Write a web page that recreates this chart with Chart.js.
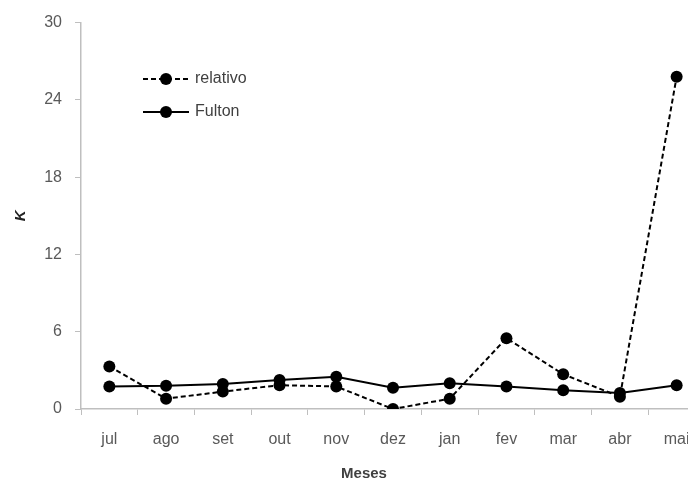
<!DOCTYPE html>
<html>
<head>
<meta charset="utf-8">
<script src="https://cdn.jsdelivr.net/npm/chart.js@4"></script>
<style>
  body { margin: 0; overflow: hidden; background: #fff; }
  #wrap { position: relative; width: 720px; height: 479px; }
  #meses {
    position: absolute; left: 364px; top: 472px;
    transform: translate(-50%, -50%);
    font: bold 15px "Liberation Sans", sans-serif; color: #404040;
  }
</style>
</head>
<body>
<div id="wrap">
  <canvas id="chart-k"></canvas>
  <div id="meses">Meses</div>
</div>
<script>
// months on the x axis
const labelsMeses = ["jul", "ago", "set", "out", "nov", "dez", "jan", "fev", "mar", "abr", "mai"];

// values
const dataRelativo = [3.3, 0.8, 1.35, 1.85, 1.75, 0.0, 0.8, 5.5, 2.7, 0.95, 25.8];
const dataFulton = [1.75, 1.8, 1.95, 2.25, 2.5, 1.65, 2.0, 1.75, 1.45, 1.25, 1.85];

const yTicks = [0, 6, 12, 18, 24, 30];

const tickFont = { family: "Liberation Sans", size: 16 };

// draws the little legend inside the plot (line + dot + text)
const innerLegend = {
  id: "innerLegend",
  afterDraw(chart) {
    const ctx = chart.ctx;
    const area = chart.chartArea;
    chart.data.datasets.forEach((ds, i) => {
      const y = 79 + i * 33;
      const x0 = area.left + 62;
      const x1 = area.left + 108;
      ctx.save();
      ctx.strokeStyle = ds.borderColor;
      ctx.lineWidth = ds.borderWidth;
      ctx.setLineDash(ds.borderDash || []);
      ctx.beginPath();
      ctx.moveTo(x0, y);
      ctx.lineTo(x1, y);
      ctx.stroke();
      ctx.setLineDash([]);
      ctx.fillStyle = ds.pointBackgroundColor;
      ctx.beginPath();
      ctx.arc((x0 + x1) / 2, y, ds.pointRadius, 0, Math.PI * 2);
      ctx.fill();
      ctx.fillStyle = "#404040";
      ctx.font = "16px 'Liberation Sans'";
      ctx.textBaseline = "middle";
      ctx.fillText(ds.label, x1 + 6, y);
      ctx.restore();
    });
  },
};

const ctxK = document.getElementById("chart-k");
new Chart(ctxK, {
  type: "line",
  data: {
    labels: labelsMeses,
    datasets: [
      {
        label: "relativo",
        data: dataRelativo,
        borderColor: "#000",
        backgroundColor: "#000",
        borderWidth: 2,
        borderDash: [5, 3],
        pointRadius: 6,
        pointBackgroundColor: "#000",
        pointBorderWidth: 0,
        tension: 0,
      },
      {
        label: "Fulton",
        data: dataFulton,
        borderColor: "#000",
        backgroundColor: "#000",
        borderWidth: 2,
        pointRadius: 6,
        pointBackgroundColor: "#000",
        pointBorderWidth: 0,
        tension: 0,
      },
    ],
  },
  options: {
    responsive: true,
    maintainAspectRatio: false,
    animation: false,
    layout: { padding: { top: 21, right: 15, left: 0, bottom: 0 } },
    plugins: {
      legend: { display: false },
      tooltip: { enabled: false },
    },
    scales: {
      x: {
        type: "category",
        offset: true,
        grid: {
          display: true,
          drawOnChartArea: false,
          drawTicks: true,
          tickLength: 6,
          offset: true,
          color: "#bfbfbf",
        },
        border: { color: "#bfbfbf", width: 1.5 },
        ticks: { color: "#595959", font: tickFont, padding: 15, maxRotation: 0 },
        afterFit(scale) {
          scale.height = 479 - 409;
        },
      },
      y: {
        min: 0,
        max: 30,
        afterBuildTicks(scale) {
          scale.ticks = yTicks.map((v) => ({ value: v }));
        },
        grid: {
          display: true,
          drawOnChartArea: false,
          drawTicks: true,
          tickLength: 6,
          color: "#bfbfbf",
        },
        border: { color: "#bfbfbf", width: 1.5 },
        ticks: { color: "#595959", font: tickFont, padding: 13 },
        title: {
          display: true,
          text: "K",
          color: "#222",
          font: { family: "Liberation Sans", size: 15, style: "italic", weight: "bold" },
          padding: { top: 12 },
        },
        afterFit(scale) {
          scale.width = 81;
        },
      },
    },
  },
  plugins: [innerLegend],
});
</script>
</body>
</html>
